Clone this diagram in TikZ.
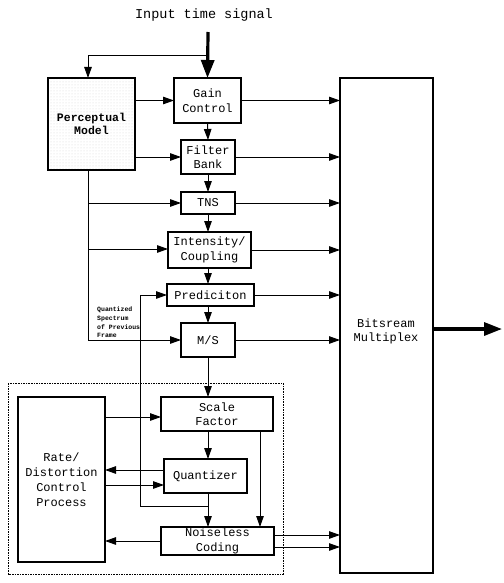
\documentclass[tikz,border=0pt]{standalone}
\usepackage{fontspec}
\setmainfont{Liberation Mono}
\usetikzlibrary{arrows.meta,patterns}
\begin{document}
\begin{tikzpicture}[x=1pt,y=-1pt,
  blk/.style={draw,line width=1.2pt,inner sep=0pt,outer sep=0pt,align=center,
    font=\fontsize{12}{14.5}\selectfont},
  arr/.style={-{Triangle[length=11pt,width=7.5pt]},line width=1pt},
  ln/.style={line width=1pt},
  bigarr/.style={-{Triangle[length=18pt,width=13pt]},line width=3.2pt}]
\useasboundingbox (0,0) rectangle (503,583);

% title
\node[font=\fontsize{13.5}{15}\selectfont] (title) at (204,15) {Input time signal};

% boxes
\node[blk,minimum width=87pt,minimum height=92pt,line width=1.6pt,
  pattern=dots,pattern color=gray!35,font=\bfseries\fontsize{11.5}{13.5}\selectfont]
  (pm) at (91.5,124) {Perceptual\\Model};
\node[blk,minimum width=67pt,minimum height=45pt] (gain) at (207.5,100.5) {Gain\\Control};
\node[blk,minimum width=54pt,minimum height=34pt] (filt) at (208,157) {Filter\\Bank};
\node[blk,minimum width=54pt,minimum height=22pt] (tns) at (208,203) {TNS};
\node[blk,minimum width=83pt,minimum height=36pt] (inten) at (209.5,250) {Intensity/\\Coupling};
\node[blk,minimum width=87pt,minimum height=22pt] (pred) at (210.5,295) {Prediciton};
\node[blk,minimum width=54pt,minimum height=34pt] (ms) at (208,340) {M/S};
\node[blk,minimum width=112pt,minimum height=34pt] (sf) at (217,414) {Scale\\Factor};
\node[blk,minimum width=83pt,minimum height=34pt] (quant) at (205.5,476) {Quantizer};
\node[blk,minimum width=113pt,minimum height=28pt] (nc) at (217.5,541) {Noiseless\\Coding};
\node[blk,minimum width=87pt,minimum height=165pt,font=\fontsize{12}{15}\selectfont] (rd) at (61.5,479.5) {Rate/\\Distortion\\Control\\Process};
\node[blk,minimum width=93pt,minimum height=495pt] (bm) at (386.5,325.5) {};
\node[font=\fontsize{12}{14}\selectfont,align=center] (bmtxt) at (386,331) {Bitsream\\Multiplex};

% dotted enclosure
\draw[line width=0.9pt,dash pattern=on 1.6pt off 1pt] (8,383) rectangle (283,574);

% input signal and feedback to perceptual model
\coordinate (top) at (208,32);
\coordinate (fb) at (208,56);
\coordinate (fbl) at (88,56);
\draw[bigarr] (top) -- (gain.north);
\draw[arr] (fb) -- (fbl) -- (fbl |- pm.north);

% perceptual model outputs
\draw[arr] (pm.east |- gain.west) -- (gain.west);
\draw[arr] (pm.east |- filt.west) -- (filt.west);
\coordinate (pmb) at (88,170);
\coordinate (pml) at (88,340);
\draw[arr] (pmb) -- (pml) -- (ms.west);
\draw[arr] (pmb |- tns.west) -- (tns.west);
\draw[arr] (pmb |- 0,249) -- (inten.west |- 0,249);

% main chain
\draw[arr] (gain.south) -- (filt.north);
\draw[arr] (filt.south) -- (tns.north);
\draw[arr] (tns.south) -- (tns.south |- inten.north);
\draw[arr] (tns.south |- inten.south) -- (tns.south |- pred.north);
\draw[arr] (tns.south |- pred.south) -- (ms.north);
\draw[arr] (ms.south) -- (ms.south |- sf.north);
\draw[arr] (ms.south |- sf.south) -- (ms.south |- quant.north);
\coordinate (qb) at (208,493);
\coordinate (qbr) at (208,506);
\coordinate (qbl) at (140,506);
\draw[arr] (qb) -- (qb |- nc.north);
\draw[arr] (qbr) -- (qbl) -- (qbl |- pred.west) -- (pred.west);
\coordinate (sfr) at (260,431);
\draw[arr] (sfr) -- (sfr |- nc.north);

% to bitstream multiplex
\draw[arr] (gain.east) -- (gain.east -| bm.west);
\draw[arr] (filt.east) -- (filt.east -| bm.west);
\draw[arr] (tns.east) -- (tns.east -| bm.west);
\draw[arr] (inten.east) -- (inten.east -| bm.west);
\draw[arr] (pred.east) -- (pred.east -| bm.west);
\draw[arr] (ms.east) -- (ms.east -| bm.west);
\draw[arr] ([yshift=-6pt]nc.east) -- ([yshift=-6pt]nc.east -| bm.west);
\draw[arr] ([yshift=6pt]nc.east) -- ([yshift=6pt]nc.east -| bm.west);

% rate/distortion loop
\draw[arr] (rd.east |- 0,417) -- (sf.west |- 0,417);
\draw[arr] (quant.west |- 0,470) -- (rd.east |- 0,470);
\draw[arr] (rd.east |- 0,485) -- (quant.west |- 0,485);
\draw[arr] (nc.west) -- (nc.west -| rd.east);

% output
\coordinate (out) at (502,329);
\draw[bigarr] (bm.east |- out) -- (out);

% label
\node[font=\bfseries\fontsize{6.5}{8.6}\selectfont,align=left,anchor=north west,inner sep=0pt]
  (qlab) at (97,307) {Quantized\\Spectrum\\of Previous\\Frame};
\end{tikzpicture}
\end{document}
